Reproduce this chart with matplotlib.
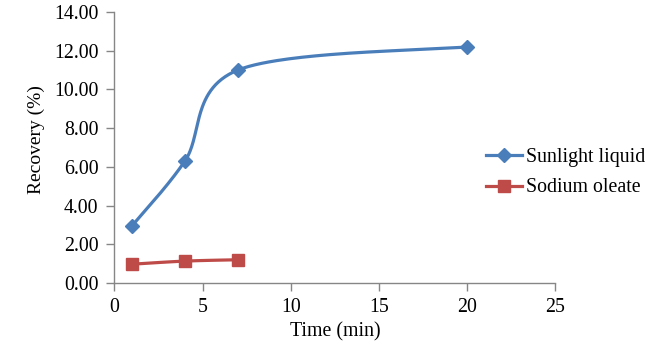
import numpy as np
import matplotlib
matplotlib.use("Agg")
import matplotlib.pyplot as plt

# Data
time_min = [1, 4, 7, 20]
sunlight_liquid = [2.95, 6.30, 11.00, 12.20]
time_oleate = [1, 4, 7]
sodium_oleate = [0.97, 1.13, 1.20]

x_ticks = [0, 5, 10, 15, 20, 25]
y_ticks = [0, 2, 4, 6, 8, 10, 12, 14]

plt.rcParams["font.family"] = ["Liberation Serif", "DejaVu Serif"]


# Excel-like smoothed line (Catmull-Rom as cubic Bezier)
def smooth(xs, ys, n=60):
    xs = np.asarray(xs, float)
    ys = np.asarray(ys, float)
    pts = np.column_stack([xs, ys])
    out = []
    for i in range(len(pts) - 1):
        p0 = pts[i - 1] if i > 0 else pts[i]
        p1 = pts[i]
        p2 = pts[i + 1]
        p3 = pts[i + 2] if i + 2 < len(pts) else pts[i + 1]
        c1 = p1 + (p2 - p0) / 6
        c2 = p2 - (p3 - p1) / 6
        t = np.linspace(0, 1, n)[:, None]
        seg = ((1 - t) ** 3 * p1 + 3 * (1 - t) ** 2 * t * c1
               + 3 * (1 - t) * t ** 2 * c2 + t ** 3 * p2)
        out.append(seg if i == 0 else seg[1:])
    out = np.vstack(out)
    return out[:, 0], out[:, 1]


fig = plt.figure(figsize=(6.65, 3.43), dpi=100)
ax = fig.add_axes([0.172, 0.175, 0.663, 0.79])

blue = "#4A7EBB"
red = "#BE4B48"

sx, sy = smooth(time_min, sunlight_liquid)
ax.plot(sx, sy, color=blue, lw=2.3, solid_capstyle="round")
ax.plot(time_min, sunlight_liquid, ls="none", marker="D", ms=7.5,
        color=blue)

ox, oy = smooth(time_oleate, sodium_oleate)
ax.plot(ox, oy, color=red, lw=2.3)
ax.plot(time_oleate, sodium_oleate, ls="none", marker="s", ms=8,
        color=red)

# legend handles
h1, = ax.plot([], [], color=blue, lw=2.3, marker="D", ms=7.5)
h2, = ax.plot([], [], color=red, lw=2.3, marker="s", ms=8)
fig.legend([h1, h2], ["Sunlight liquid", "Sodium oleate"],
           loc="center left", bbox_to_anchor=(0.704, 0.497),
           frameon=False, fontsize=14.3, handlelength=1.8,
           handletextpad=0.2, labelspacing=0.6)

ax.set_xlim(0, 25)
ax.set_ylim(0, 14)
ax.set_xticks(x_ticks)
ax.set_yticks(y_ticks)
ax.set_yticklabels(["%.2f" % v for v in y_ticks])

for s in ["top", "right"]:
    ax.spines[s].set_visible(False)
for s in ["left", "bottom"]:
    ax.spines[s].set_color("#868686")
    ax.spines[s].set_linewidth(1)
ax.tick_params(colors="#868686", labelcolor="black", labelsize=14.3,
               length=5.5, width=1)
ax.tick_params(axis="x", pad=5)
ax.tick_params(axis="y", pad=6)

ax.set_xlabel("Time (min)", fontsize=14.3)
ax.xaxis.set_label_coords(0.5, -0.145)
ax.set_ylabel("Recovery (%)", fontsize=14)
ax.yaxis.set_label_coords(-0.157, 0.53)

fig.savefig("out.png", dpi=100)
